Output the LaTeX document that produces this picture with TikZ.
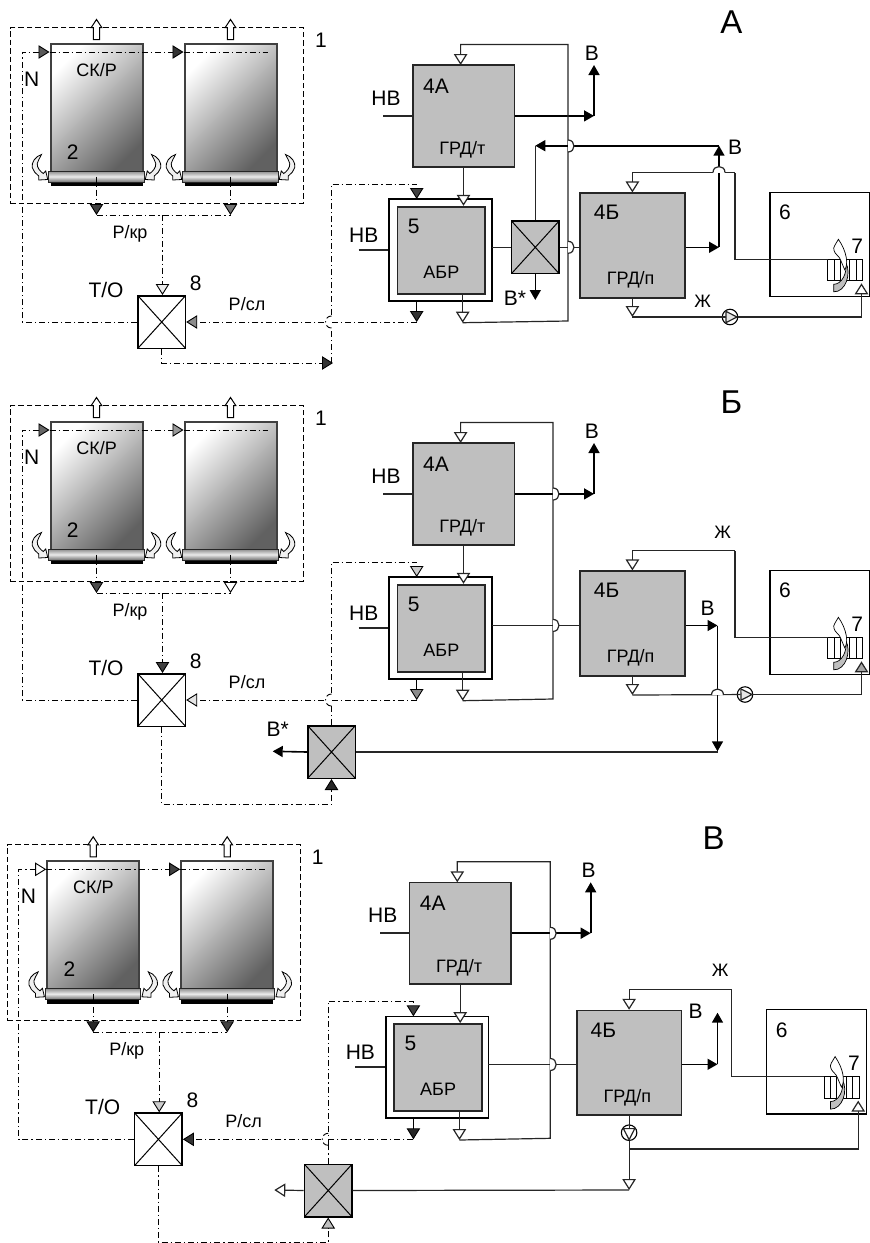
\documentclass[tikz,border=0pt]{standalone}
\usepackage{fontspec}
\setmainfont{Liberation Sans}
\usetikzlibrary{arrows.meta}
\tikzset{
	big/.style={font=\fontsize{21}{21}\selectfont,inner sep=0pt},
	small/.style={font=\fontsize{18}{18}\selectfont,inner sep=0pt},
	title/.style={font=\fontsize{33}{33}\selectfont,inner sep=0pt},
	sig/.style={draw=black,line width=0.9pt,dash pattern=on 6pt off 3pt on 1.2pt off 3pt},
	hall/.style={draw,line width=1pt,dash pattern=on 5.5pt off 3pt,inner sep=0pt,minimum width=293pt,minimum height=175.5pt},
	pipe/.style={line width=1.2pt,draw=black!85},
	heavy/.style={draw=black,line width=1.6pt,-{Triangle[length=10pt,width=11pt]}},
	sigtip/.style={-{Triangle[length=11pt,width=13.5pt,fill=#1]}},
	pumptip/.style={-{Triangle[length=13pt,width=13pt,fill=#1]}},
	hop/.style={out=#1,in=#1,looseness=1.7},
	hopright/.pic={\fill[white] (0,6) to[hop=0] (0,-6) -- cycle; \draw[pipe] (0,6) to[hop=0] (0,-6);},
	hopup/.pic={\fill[white] (-6,0) to[hop=90] (6,0) -- cycle; \draw[pipe] (-6,0) to[hop=90] (6,0);},
	hopleft/.pic={\fill[white] (0,6) to[hop=180] (0,-6) -- cycle; \draw[sig] (0,6) to[hop=180] (0,-6);},
	cell/.style={draw=black!75,line width=2pt,inner sep=0pt,minimum width=92pt,minimum height=131pt,top color=white,bottom color=black!62,shading angle=45},
	bar/.style={draw=black!85,line width=1pt,inner sep=0pt,minimum width=95.5pt,minimum height=11pt,top color=black!45,bottom color=black!55,middle color=black!8},
	unit/.style={draw=black!85,line width=1.7pt,fill=black!25,inner sep=0pt},
	valve/.style={draw,line width=1.5pt,fill=#1,inner sep=0pt,minimum width=47.5pt,minimum height=52.5pt,
		path picture={\draw[line width=1pt] (path picture bounding box.north west) -- (path picture bounding box.south east) (path picture bounding box.north east) -- (path picture bounding box.south west);}},
	pumpnode/.style={draw,circle,line width=1.1pt,inner sep=0pt,minimum size=15.5pt},
	swirl/.pic={\draw[fill=black!6,line width=0.8pt] (-6.8,-16) .. controls (-13,-14) and (-17,-8) .. (-16,-3) .. controls (-15,0.5) and (-12.5,3.5) .. (-9.5,5.5) -- (-9.5,9.5) -- (-0.5,9) -- (-2.5,0.5) -- (-5,3) .. controls (-8,1) and (-11.5,-3) .. (-11,-7) .. controls (-10.5,-10) and (-8.5,-12) .. (-6.8,-16) -- cycle;},
	outlet/.pic={\draw[fill=white,line width=1pt] (-3.2,-3) -- (-3.2,-15) -- (-5.3,-15) -- (0,-23) -- (5.3,-15) -- (3.2,-15) -- (3.2,-3) -- cycle;},
	flame/.pic={
		\draw[line width=0.9pt] (0,0) rectangle (34.6,21.4);
		\foreach \s in {6.3,12.3,18.3,21.7,28.3} {\draw[line width=0.9pt] (\s,0) -- (\s,21.4);}
		\draw[fill=black!25,line width=0.7pt] (6,32.5) .. controls (18,33) and (24,14) .. (18,3) .. controls (20,14) and (14,25) .. (6,25) -- cycle;
		\draw[fill=white,line width=0.7pt] (10.7,-20) .. controls (8,-15) and (5,-12) .. (6.3,-9) .. controls (7,-5) and (12,-3) .. (13,1) -- (17,10.5) .. controls (21,5) and (19,-8) .. (10.7,-20) -- cycle;
	},
}

\begin{document}
\begin{tikzpicture}[x=1pt,y=-1pt]
	\useasboundingbox (0,0) rectangle (870,1243);
	\foreach \p/\dx/\dy/\vx/\tipa/\tipb/\tipc/\tipd/\tipe/\tipf/\tipg/\tiph in {
		a/0/0/568/black!65/black!80/black!75/black!55/gray!15/black!45/black!75/black!80,
		b/0/378/553/black!60/black!40/black!70/white/black!75/black!10/black!20/black!45,
		v/-3.3/817.3/553.5/white/black!75/black!85/black!75/black!20/black!80/black!75/black!85} {
	\begin{scope}[shift={(\dx,\dy)}]
		\node[hall] (\p-hall) at (156.8,115.3) {};
		\foreach \n/\x in {1/96.5,2/230.5} {
			\draw[line width=3.2pt] (\x-46,184.6) -- (\x+46,184.6);
			\node[cell] (\p-cell\n) at (\x,109) {};
			\node[bar] (\p-bar\n) at (\x,176.5) {};
			\pic at (\p-bar\n.north west) {swirl};
			\pic[xscale=-1] at (\p-bar\n.north east) {swirl};
			\pic at (\p-cell\n.north) {outlet};
		}
		\node[big] (\p-one) at (321,40) {1};
		\node[big] (\p-two) at (72.7,152) {2};
		\node[big] (\p-n) at (31.7,79.3) {N};
		\node[small] (\p-skr) at (96.7,70) {СК/Р};
		\node[small] (\p-rkr) at (130,234) {Р/кр};
		\node[big] (\p-tolbl) at (106,290) {Т/О};
		\node[big] (\p-eight) at (195.7,283) {8};
		\node[small] (\p-rsl) at (247,304) {Р/сл};
		\node[valve=white] (\p-to) at (161.7,322) {};
		\coordinate (\p-nc) at (22,52);
		\coordinate (\p-na) at (49.5,52);
		\coordinate (\p-nb) at (183.5,52);
		\coordinate (\p-ne) at (268,52);
		\draw[sig,sigtip=\tipa] (\p-to.west) -| (\p-nc) -- (\p-na);
		\draw[sig,sigtip=\tipb] (\p-na) -- (\p-nb);
		\draw[sig] (\p-nb) -- (\p-ne);
		\coordinate (\p-ka) at (96.5,215);
		\coordinate (\p-kb) at (230.5,215);
		\coordinate (\p-kc) at (162.5,215);
		\draw[sig,sigtip=\tipc] (\p-bar1.center) -- (\p-ka);
		\draw[sig,sigtip=\tipd] (\p-bar2.center) -- (\p-kb);
		\draw[sig] (\p-ka) -- (\p-kb);
		\draw[sig,sigtip=\tipe] (\p-kc) -- (\p-kc |- \p-to.north);
		\node[unit] (\p-gt) at (463.5,115.9) [minimum width=101.7pt,minimum height=101.7pt] {};
		\node[draw,line width=1.7pt,fill=white,inner sep=0pt,minimum width=102.4pt,minimum height=101.7pt] (\p-ash) at (440.5,249.9) {};
		\node[unit] (\p-abr) at (441.2,250.3) [minimum width=87.7pt,minimum height=87.3pt] {};
		\node[unit] (\p-gp) at (632.4,245.5) [minimum width=104.7pt,minimum height=104.4pt] {};
		\node[draw,line width=1.5pt,inner sep=0pt,minimum width=100pt,minimum height=104.4pt] (\p-fur) at (820,244.5) {};
		\node[big] (\p-la) at (436,86) {4А};
		\node[small] (\p-lb) at (462.4,150) {ГРД/т};
		\node[big] (\p-lc) at (413.7,226) {5};
		\node[small] (\p-ld) at (441.4,272) {АБР};
		\node[big] (\p-le) at (606.7,212.7) {4Б};
		\node[small] (\p-lf) at (630.7,280) {ГРД/п};
		\node[big] (\p-lg) at (785,212.7) {6};
		\node[big] (\p-lh) at (857.3,246) {7};
		\node[big] (\p-nva) at (386,98) {НВ};
		\node[big] (\p-nvb) at (363.7,235) {НВ};
		\node[big] (\p-lb1) at (591.8,53) {В};
		\coordinate (\p-nvaa) at (383.3,115.9);
		\coordinate (\p-nvbb) at (358.6,249.9);
		\draw[pipe,line width=1.5pt] (\p-nvaa) -- (\p-gt.west);
		\draw[pipe,line width=1.5pt] (\p-nvbb) -- (\p-ash.west);
		\coordinate (\p-oa) at (594,115.9);
		\coordinate (\p-ob) at (594,65);
		\draw[heavy] (\p-gt.east) -- (\p-oa);
		\draw[heavy] (\p-oa) -- (\p-ob);
		\draw[pipe,sigtip=white] (\p-gt.south) -- (\p-gt.south |- \p-abr.north);
		\coordinate (\p-ret) at (462.7,322.7);
		\coordinate (\p-top) at (460.6,65);
		\draw[pipe,sigtip=white] (\p-abr.south -| \p-ret) -- (\p-ret);
		\draw[pipe,sigtip=white] (\p-ret) -- (\vx,321) -- (\vx,44.5) -| (\p-top);
		\coordinate (\p-di) at (416.7,184);
		\coordinate (\p-dt) at (416.7,199);
		\coordinate (\p-ds) at (416.7,300.7);
		\coordinate (\p-dn) at (416.7,322);
		\coordinate (\p-up) at (331.5,328);
		\draw[sig,sigtip=\tipf] (\p-dn) -- (\p-to.east);
		\draw[sig,solid,sigtip=\tiph] (\p-ds) -- (\p-dn);
		\draw[sig,sigtip=\tipg] (\p-up) |- (\p-di) -- (\p-dt);
		\pic at (331.5,322) {hopleft};
		\coordinate (\p-ae) at (491.7,247.3);
		\coordinate (\p-fa) at (735,172.5);
		\coordinate (\p-fb) at (632.4,317);
		\node[inner sep=0pt,minimum size=0pt] (\p-brn) at (827.7,259.3) {};
		\pic at (\p-brn) {flame};
		\draw[pipe] (\p-brn) -| (\p-fa);
		\coordinate (\p-fc) at (861.5,283.3);
	\end{scope}
	}
	\begin{scope}
		\node[title] (a-title) at (731.4,22) {А};
		\node[big] (a-lbb) at (735,147) {В};
		\node[big] (a-lbs) at (515,298) {В*};
		\node[small] (a-lzh) at (702.7,301.7) {Ж};
		\node[valve=black!25] (a-vb) at (535.3,247.3) {};
		\coordinate (a-ga) at (719,247.3);
		\coordinate (a-gb) at (719,145.7);
		\coordinate (a-gc) at (535.3,145.7);
		\coordinate (a-gd) at (535.3,300);
		\coordinate (a-lo) at (333,363);
		\coordinate (a-lv) at (331.5,363);
		\draw[pipe] (a-ae) -- (a-vb.west);
		\draw[pipe] (a-vb.east) -- (a-vb.east -| a-gp.west);
		\draw[heavy] (a-vb.east -| a-gp.east) -- (a-ga);
		\draw[heavy] (a-ga) -- (a-gb);
		\draw[heavy] (a-gb) -- (a-gc);
		\draw[pipe,line width=1.6pt] (a-gc) -- (a-vb.north);
		\draw[heavy] (a-vb.south) -- (a-gd);
		\draw[pipe,sigtip=white] (a-fa) -| (a-gp.north);
		\draw[pipe,sigtip=white] (a-gp.south) -- (a-fb);
		\node[pumpnode] (a-pump) at (730,317) {};
		\draw[pipe,pumptip=black!10] (a-fb) -- (a-pump.east);
		\draw[pipe,sigtip=white] (a-pump.east) -| (a-fc);
		\draw[sig,sigtip=black!80] (a-to.south) |- (a-lo);
		\draw[sig] (a-lv) -- (a-up);
		\pic at (568,146) {hopright};
		\pic at (568,247.3) {hopright};
		\pic at (719,172.5) {hopup};
	\end{scope}
	\begin{scope}[shift={(0,378)}]
		\node[title] (b-title) at (731.4,23.7) {Б};
		\node[big] (b-lbb) at (707.7,230.3) {В};
		\node[big] (b-lbs) at (277.7,351) {В*};
		\node[small] (b-lzh) at (722.6,154.7) {Ж};
		\node[valve=black!25] (b-vb) at (331.5,374) {};
		\coordinate (b-ga) at (717.5,247.5);
		\coordinate (b-gb) at (717.5,373.3);
		\coordinate (b-gd) at (272.7,373.3);
		\coordinate (b-lo) at (331.5,426.3);
		\draw[pipe] (b-ae) -- (b-ae -| b-gp.west);
		\draw[heavy] (b-ga -| b-gp.east) -- (b-ga);
		\draw[heavy] (b-ga) -- (b-gb);
		\draw[pipe] (b-vb.east) -- (b-vb.east -| b-gb);
		\draw[heavy] (b-vb.west) -- (b-gd);
		\draw[pipe,sigtip=white] (b-fa) -| (b-gp.north);
		\draw[pipe,sigtip=white] (b-gp.south) -- (b-fb);
		\node[pumpnode] (b-pump) at (745,316.5) {};
		\draw[pipe,pumptip=black!10] (b-fb) -- (b-pump.east);
		\draw[pipe,sigtip=black!35] (b-pump.east) -| (b-fc);
		\draw[sig,sigtip=black!85] (b-to.south) |- (b-lo) -- (b-vb.south);
		\draw[sig] (b-vb.north) -- (b-up);
		\pic at (553,116) {hopright};
		\pic at (553,247.4) {hopright};
		\pic at (717.5,317) {hopup};
	\end{scope}
	\begin{scope}[shift={(-3.3,817.3)}]
		\node[title] (v-title) at (716.8,20.7) {В};
		\node[big] (v-lbb) at (699,194.3) {В};
		\node[small] (v-lzh) at (723.6,153.4) {Ж};
		\node[valve=black!25] (v-vb) at (331.5,373.2) {};
		\coordinate (v-ga) at (720.8,247);
		\coordinate (v-gb) at (720.8,195.4);
		\coordinate (v-gd) at (277.6,372.7);
		\coordinate (v-fe) at (632.4,372.7);
		\coordinate (v-ff) at (632.4,331.7);
		\coordinate (v-lo) at (331.5,425);
		\draw[pipe] (v-ae) -- (v-ae -| v-gp.west);
		\draw[heavy] (v-ga -| v-gp.east) -- (v-ga);
		\draw[heavy] (v-ga) -- (v-gb);
		\draw[pipe,sigtip=white] (v-vb.west) -- (v-gd);
		\draw[pipe,sigtip=white] (v-fa) -| (v-gp.north);
		\node[pumpnode] (v-pump) at (632.4,315.4) {};
		\draw[pipe,pumptip=white] (v-gp.south) -- (v-pump.south);
		\draw[pipe,sigtip=white] (v-pump.south) -- (v-fe);
		\draw[pipe] (v-vb.east) -- (v-fe);
		\draw[pipe,sigtip=white] (v-ff) -| (v-fc);
		\draw[sig,sigtip=black!25] (v-to.south) |- (v-lo) -- (v-vb.south);
		\draw[sig] (v-vb.north) -- (v-up);
		\pic at (553.5,116) {hopright};
		\pic at (553.5,247.2) {hopright};
	\end{scope}
\end{tikzpicture}
\end{document}
